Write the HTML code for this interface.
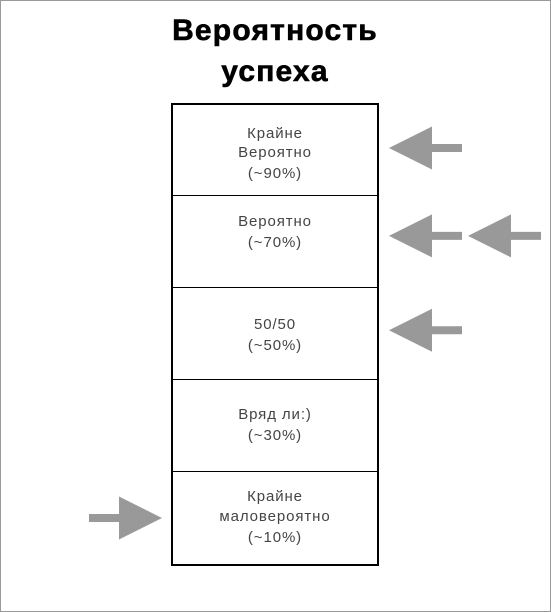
<!DOCTYPE html>
<html lang="ru">
<head>
<meta charset="utf-8">
<title>Вероятность успеха</title>
<style>
html,body{margin:0;padding:0;background:#fff;}
body{width:551px;height:612px;overflow:hidden;}
svg{display:block;}
text{font-family:"Liberation Sans","DejaVu Sans",sans-serif;text-anchor:middle;}
.title{font-size:30px;font-weight:700;letter-spacing:1.2px;fill:#000;stroke:#000;stroke-width:0.6px;}
.label{font-size:15px;letter-spacing:0.9px;fill:#444;}
</style>
</head>
<body>
<svg id="chart" width="551" height="612" viewBox="0 0 551 612" xmlns="http://www.w3.org/2000/svg">
  <rect x="0.5" y="0.5" width="550" height="611" fill="#fff" stroke="#999" stroke-width="1"/>
  <text class="title" x="275" y="40">Вероятность</text>
  <text class="title" x="275" y="81">успеха</text>
</svg>
<script>
// Scale categories, top to bottom
const rowLabels = [
  ["Крайне", "Вероятно", "(~90%)"],
  ["Вероятно", "(~70%)"],
  ["50/50", "(~50%)"],
  ["Вряд ли:)", "(~30%)"],
  ["Крайне", "маловероятно", "(~10%)"]
];
// Estimated probability (%) each arrow points at
const arrowValues = [90, 71, 71, 50.6, 10];
// Which side of the scale each arrow sits on
const arrowSides = ["right", "right", "right", "right", "left"];
// Arrow order outward from the scale on its side
const arrowSlots = [0, 0, 1, 0, 0];

const svg = document.getElementById('chart');
const NS = 'http://www.w3.org/2000/svg';
const box = {x: 172, y: 104, w: 206, h: 461};
const rowH = 92;
const firstRowEnd = 195.5;

function yOfProbability(p) { return 564.25 - 4.625 * p; }
function rowBottom(i) { return firstRowEnd + i * rowH; }
function make(tag, attrs) {
  const el = document.createElementNS(NS, tag);
  for (const k in attrs) el.setAttribute(k, attrs[k]);
  svg.appendChild(el);
  return el;
}

const baselineRows = [[138, 157, 178], [226, 247], [329, 350], [419, 440], [501, 521, 542]];

rowLabels.forEach(function (lines, i) {
  lines.forEach(function (line, j) {
    const t = make('text', {class: 'label', x: 275, y: baselineRows[i][j]});
    
    
    t.textContent = line;
  });
  if (i < rowLabels.length - 1) {
    const d = make('line', {x1: box.x, x2: box.x + box.w, y1: rowBottom(i), y2: rowBottom(i), stroke: '#000', 'stroke-width': 1});
    
    
  }
});

const outline = make('rect', {x: box.x, y: box.y, width: box.w, height: box.h, fill: 'none', stroke: '#000', 'stroke-width': 2});



arrowValues.forEach(function (v, i) {
  const cy = yOfProbability(v);
  let pts;
  if (arrowSides[i] === 'right') {
    const tip = 389 + arrowSlots[i] * 79;
    pts = [[tip, cy], [tip + 43, cy - 21.5], [tip + 43, cy - 4], [tip + 73, cy - 4], [tip + 73, cy + 4], [tip + 43, cy + 4], [tip + 43, cy + 21.5]];
  } else {
    const tip = 162 - arrowSlots[i] * 79;
    pts = [[tip, cy], [tip - 43, cy - 21.5], [tip - 43, cy - 4], [tip - 73, cy - 4], [tip - 73, cy + 4], [tip - 43, cy + 4], [tip - 43, cy + 21.5]];
  }
  const a = make('polygon', {points: pts.map(function (p) { return p.join(','); }).join(' '), fill: '#999'});
  
  
});
</script>
</body>
</html>
